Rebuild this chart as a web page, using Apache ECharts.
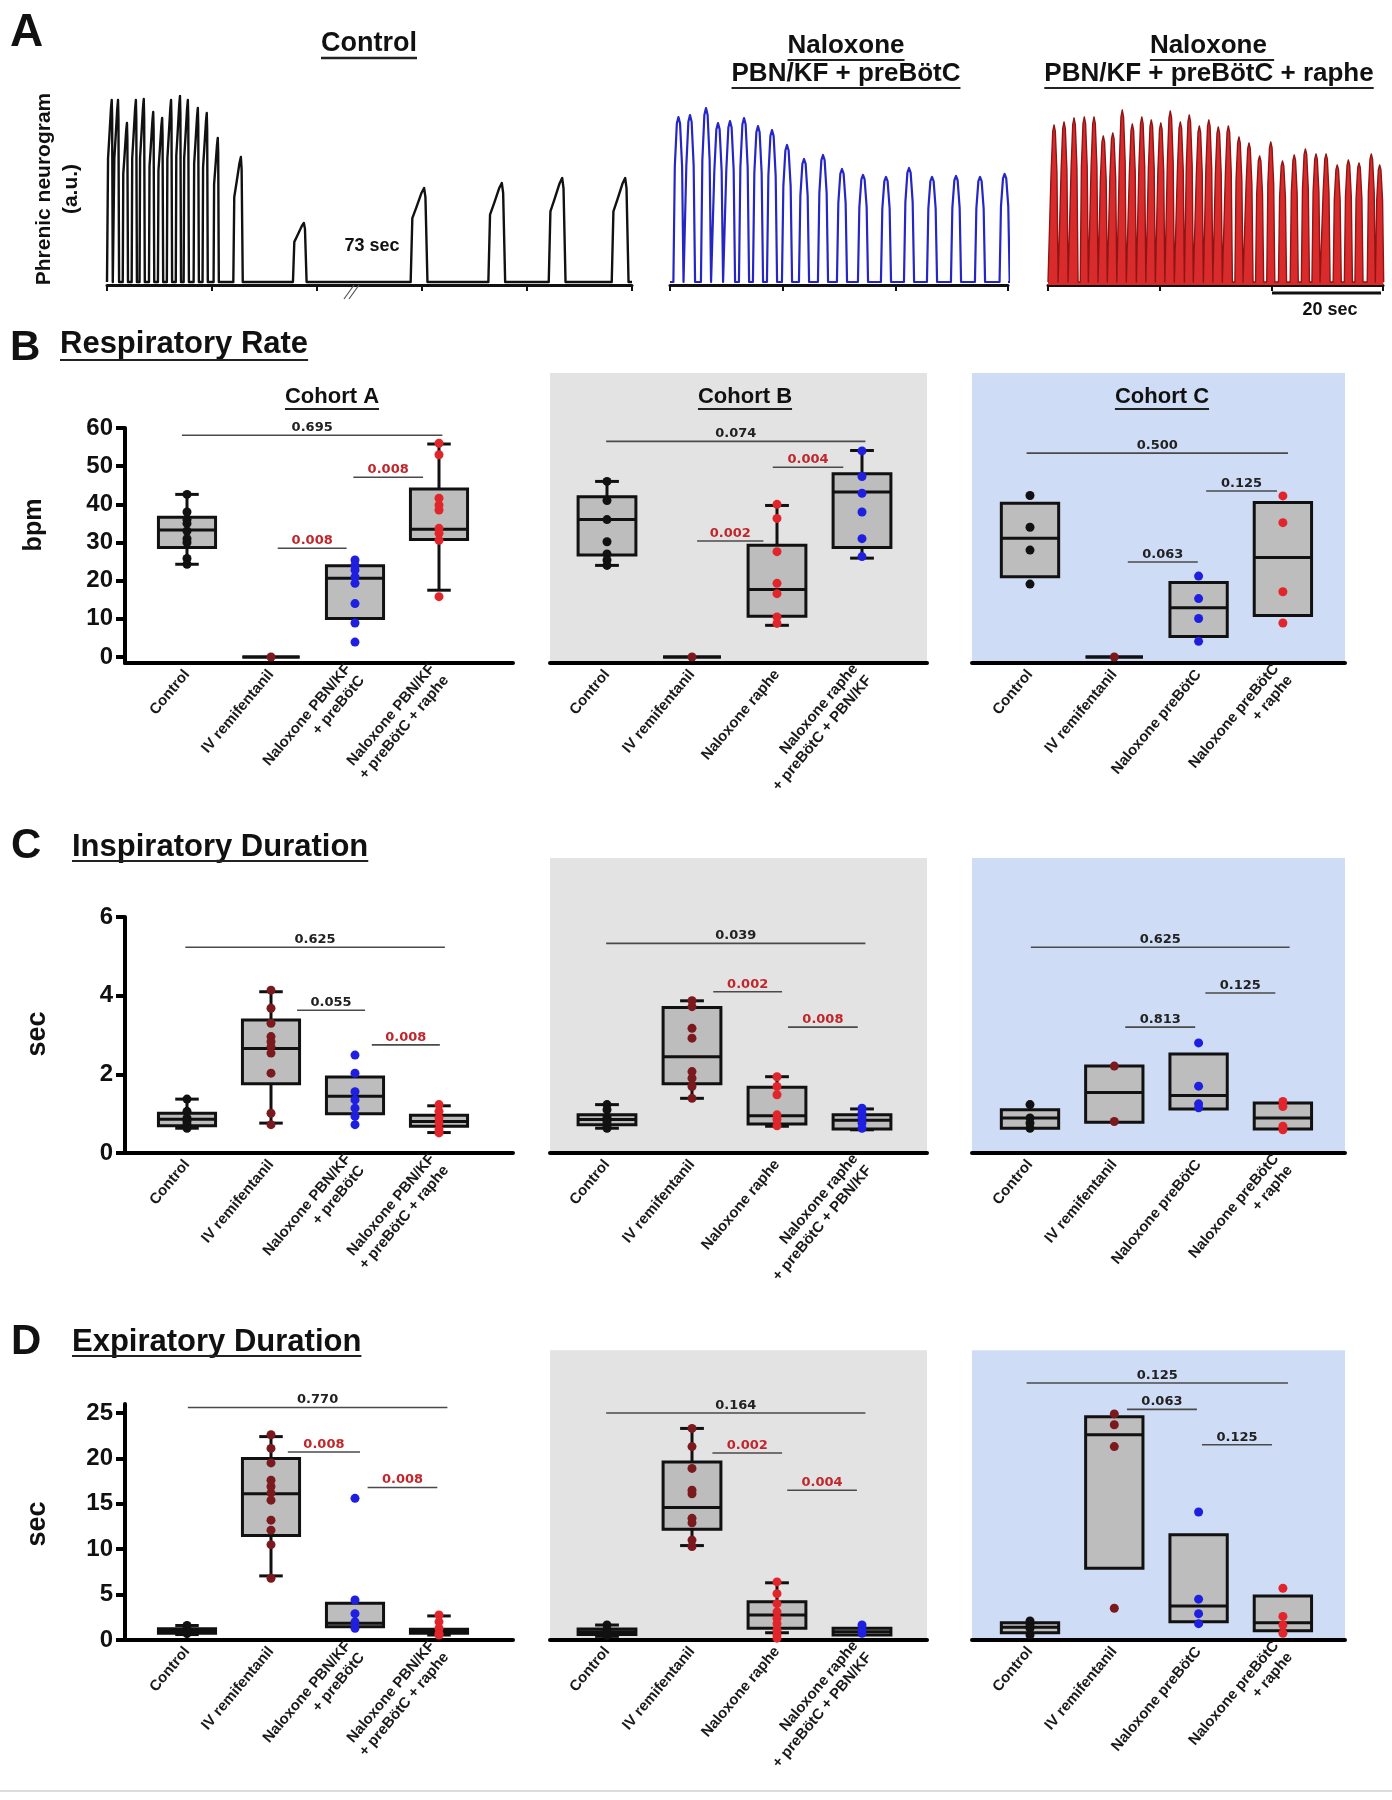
<!DOCTYPE html>
<html><head><meta charset="utf-8">
<script src="https://cdn.jsdelivr.net/npm/echarts@6/dist/echarts.min.js"></script>
<style>html,body{margin:0;padding:0;background:#fff}#c{width:1392px;height:1800px}</style>
</head><body><div id="c"></div><script>
// ================= DATA =================
// Panel A: phrenic neurogram bursts (peak time s, amplitude a.u., duration s)
const controlBurstTimes = [0.9,2.1,3.8,5.5,7.0,8.8,10.5,12.2,13.9,15.4,17.3,19.0,21.1,25.5,37.5,60.4,75.2,86.7,98.7];
const controlBurstAmps  = [182,182,159,182,183,170,164,182,186,182,174,169,144,125,59,94,99,104,104];
const controlBurstDurs  = [1.0,1.0,1.0,1.0,1.0,1.0,1.0,1.0,1.0,1.0,1.0,1.0,1.0,1.8,2.6,3.2,3.2,3.2,3.2];
const pbnBurstTimes = [1.5,3.55,6.39,8.52,10.65,13.14,15.62,18.11,20.77,23.79,27.16,30.53,34.26,38.34,42.43,46.51,50.77,55.03,59.4];
const pbnBurstAmps  = [165,167,174,159,161,164,156,152,137,123,127,113,107,105,114,105,106,105,108];
const pbnBurstDur = 1.8;
const rapheBurstTimes = [1.08,2.87,4.66,6.5,8.24,9.9,11.6,13.3,15.1,16.8,18.5,20.2,21.9,23.7,25.3,27.1,28.8,30.5,32.3,34.2,36.0,37.9,39.9,42.0,44.1,46.1,48.0,49.8,51.8,53.8,55.7,57.9,59.4];
const rapheBurstAmps  = [157,160,164,165,165,146,149,172,158,165,162,159,171,160,167,156,162,155,156,145,139,126,140,121,127,133,128,128,117,122,119,128,117];
const rapheBurstDur = 1.45;
const traceTickInterval = 20;

// Categories
const catsA = ['Control','IV remifentanil','Naloxone PBN/KF\n+ preBötC','Naloxone PBN/KF\n+ preBötC + raphe'];
const catsB = ['Control','IV remifentanil','Naloxone raphe','Naloxone raphe\n+ preBötC + PBN/KF'];
const catsC = ['Control','IV remifentanil','Naloxone preBötC','Naloxone preBötC\n+ raphe'];

// Tick labels
const rateTicks = [0,10,20,30,40,50,60];
const tiTicks = [0,2,4,6];
const teTicks = [0,5,10,15,20,25];

// Boxes: [whisker low, q1, median, q3, whisker high] (null = no whisker)
// Respiratory rate (bpm)
const rateBoxA = [[24.3,28.7,33.3,36.6,42.6],[0,0,0,0,0],[null,10.1,20.6,23.9,null],[17.5,30.8,33.5,44,55.8]];
const ratePtsA = [[42.6,38,36,35,33,31,30,25.8,24.3],[0],[25.4,24,22.8,21,19.3,14,8.9,3.9],[56,53,41.6,39.8,38.5,33.7,32.4,30.6,15.8]];
const rateSigA = [[-0.06,3.04,58.1,'0.695',0],[1.98,2.81,47.1,'0.008',1],[1.08,1.9,28.5,'0.008',1]];
const rateBoxB = [[24,26.7,36,42,46],[0,0,0,0,0],[8.3,10.7,17.7,29.3,39.7],[25.9,28.7,43.2,48,54.1]];
const ratePtsB = [[46,41,36,30.2,27,25.4,24],[0],[40,36.3,27.6,19.3,16.6,10.5,8.8],[54,47.3,42.9,38,31,26.3]];
const rateSigB = [[-0.01,3.04,56.5,'0.074',0],[1.95,2.78,49.7,'0.004',1],[1.06,1.84,30.4,'0.002',1]];
const rateBoxC = [[null,21,31.1,40.3,null],[0,0,0,0,0],[null,5.4,12.9,19.5,null],[null,10.9,26.1,40.5,null]];
const ratePtsC = [[42.3,34,28,19.1],[0],[21.2,15.3,10.1,4.1],[42.2,35.2,17.1,8.9]];
const rateSigC = [[-0.04,3.06,53.4,'0.500',0],[2.09,2.93,43.5,'0.125',0],[1.16,1.99,24.9,'0.063',0]];
// Inspiratory duration (sec)
const tiBoxA = [[0.63,0.69,0.86,1.01,1.37],[0.76,1.76,2.66,3.38,4.1],[null,1.0,1.44,1.93,null],[0.52,0.68,0.8,0.96,1.2]];
const tiPtsA = [[1.37,1.06,0.89,0.8,0.72,0.63],[4.14,3.68,3.3,2.96,2.83,2.7,2.54,2.03,1.01,0.72],[2.49,2.03,1.56,1.35,1.14,0.93,0.72],[1.23,1.06,0.89,0.76,0.59,0.51]];
const tiSigA = [[-0.02,3.07,5.23,'0.625',0],[1.31,2.12,3.63,'0.055',0],[2.2,3.01,2.75,'0.008',1]];
const tiBoxB = [[0.63,0.72,0.85,0.97,1.23],[1.39,1.76,2.45,3.7,3.87],[0.68,0.74,0.95,1.67,1.94],[0.59,0.61,0.83,0.97,1.12]];
const tiPtsB = [[1.23,1.1,0.9,0.8,0.7,0.63],[3.87,3.72,3.17,2.92,2.07,1.9,1.69,1.39],[1.94,1.69,1.48,0.97,0.85,0.69],[1.14,1.01,0.89,0.76,0.63]];
const tiSigB = [[-0.01,3.04,5.33,'0.039',0],[1.25,2.06,4.1,'0.002',1],[2.13,2.95,3.2,'0.008',1]];
const tiBoxC = [[null,0.63,0.89,1.1,null],[null,0.78,1.54,2.21,null],[null,1.12,1.46,2.52,null],[null,0.61,0.89,1.27,null]];
const tiPtsC = [[1.23,0.89,0.76,0.63],[2.21,0.8],[2.8,1.7,1.25,1.15],[1.31,1.18,0.68,0.59]];
const tiSigC = [[0.01,3.08,5.23,'0.625',0],[2.08,2.91,4.07,'0.125',0],[1.13,1.96,3.2,'0.813',0]];
// Expiratory duration (sec)
const teBoxA = [[0.6,0.75,1.0,1.25,1.6],[7.06,11.5,16.1,20.0,22.4],[null,1.47,1.84,4.04,null],[0.55,0.74,1.0,1.18,2.65]];
const tePtsA = [[1.6,1.2,1.05,0.95,0.85,0.7],[22.6,21.1,19.5,17.6,16.9,16.2,15.4,13.2,12.1,10.5,6.8],[15.6,4.4,2.9,2.0,1.3],[2.75,2.0,1.3,0.7,0.55]];
const teSigA = [[0.01,3.1,25.6,'0.770',0],[1.2,2.06,20.7,'0.008',1],[2.15,2.98,16.8,'0.008',1]];
const teBoxB = [[0.4,0.6,0.9,1.2,1.65],[10.4,12.2,14.6,19.6,23.3],[0.8,1.3,2.76,4.2,6.3],[null,0.55,0.9,1.3,null]];
const tePtsB = [[1.65,1.1,0.8,0.5],[23.3,21.3,18.9,16.5,16.1,13.4,12.9,11,10.3],[6.4,5.1,4.0,3.1,2.4,1.8,1.1,0.55,0.2],[1.65,1.1,0.74]];
const teSigB = [[-0.01,3.04,25.0,'0.164',0],[1.24,2.06,20.6,'0.002',1],[2.12,2.94,16.5,'0.004',1]];
const teBoxC = [[null,0.8,1.4,1.9,null],[null,7.9,22.6,24.6,null],[null,2.0,3.75,11.6,null],[null,1.03,1.9,4.85,null]];
const tePtsC = [[2.1,1.65,1.3,0.55],[24.9,23.7,21.3,3.5],[14.1,4.5,2.9,1.8],[5.7,2.6,1.65,0.74]];
const teSigC = [[-0.04,3.06,28.3,'0.125',0],[1.15,1.98,25.4,'0.063',0],[2.04,2.87,21.5,'0.125',0]];

// ================= STYLE / LAYOUT =================
const BLACK='#111', DRED='#7a1a1f', BLUE='#1f1fe0', RED='#e0262b';
const FONT='"Liberation Sans", Arial, sans-serif';
const PFONT='bold 13px "DejaVu Sans", sans-serif';
const cohorts = [
  {left:125, right:513, c0:187, step:84, cats:catsA, colors:[BLACK,DRED,BLUE,RED], bg:null},
  {left:550, right:927, c0:607, step:85, cats:catsB, colors:[BLACK,DRED,RED,BLUE], bg:'#e3e3e3'},
  {left:972, right:1345, c0:1030, step:84.3, cats:catsC, colors:[BLACK,DRED,BLUE,RED], bg:'#cfdcf6'}
];
const rows = [
  {y0:657, k:3.817, minV:-1.57, maxA:60, maxBg:74.4, ticks:rateTicks,
   boxes:[rateBoxA,rateBoxB,rateBoxC], pts:[ratePtsA,ratePtsB,ratePtsC], sig:[rateSigA,rateSigB,rateSigC]},
  {y0:1153, k:39.33, minV:0, maxA:6, maxBg:7.5, ticks:tiTicks,
   boxes:[tiBoxA,tiBoxB,tiBoxC], pts:[tiPtsA,tiPtsB,tiPtsC], sig:[tiSigA,tiSigB,tiSigC]},
  {y0:1640, k:9.08, minV:0, maxA:26, maxBg:31.9, ticks:teTicks,
   boxes:[teBoxA,teBoxB,teBoxC], pts:[tePtsA,tePtsB,tePtsC], sig:[teSigA,teSigB,teSigC]}
];
const BOX_W = 0.68, CAP_W = 0.28;

const grids=[], xAxes=[], yAxes=[], series=[];

// ---- traces ----
function buildTrace(times, amps, durs, aug, tEnd){
  const p=[[0,0]];
  for(let i=0;i<times.length;i++){
    const t=times[i], a=amps[i], d=Array.isArray(durs)?durs[i]:durs;
    if(aug) p.push([t-0.8*d,0],[t-0.7*d,0.68*a],[t-0.45*d,0.8*a],[t-0.15*d,0.95*a],[t,a],[t+0.08*d,0.9*a],[t+0.2*d,0]);
    else p.push([t-0.5*d,0],[t-0.36*d,0.7*a],[t-0.16*d,0.96*a],[t,a],[t+0.16*d,0.96*a],[t+0.36*d,0.7*a],[t+0.5*d,0]);
  }
  p.push([tEnd,0]);
  return p;
}
const traces = [
  {left:107, width:525, max:100, data:buildTrace(controlBurstTimes,controlBurstAmps,controlBurstDurs,true,100), color:'#111', area:null, w:2.4},
  {left:670, width:338, max:60, data:buildTrace(pbnBurstTimes,pbnBurstAmps,pbnBurstDur,false,60), color:'#2626c4', area:null, w:2.2},
  {left:1048, width:335, max:60, data:buildTrace(rapheBurstTimes,rapheBurstAmps,rapheBurstDur,false,60), color:'#8f1515', area:'#d92b2b', w:1.4}
];
traces.forEach((t,i)=>{
  grids.push({left:t.left, top:96, width:t.width, height:189});
  xAxes.push({type:'value', gridIndex:i, min:0, max:t.max, interval:traceTickInterval,
    axisLine:{show:true, onZero:false, lineStyle:{color:'#111', width:3}},
    axisTick:{show:true, length:6, lineStyle:{color:'#111', width:2}},
    axisLabel:{show:false}, splitLine:{show:false}});
  yAxes.push({type:'value', gridIndex:i, min:-3, max:186, show:false});
  series.push({type:'line', xAxisIndex:i, yAxisIndex:i, data:t.data, showSymbol:false, silent:true,
    lineStyle:{color:t.color, width:t.w, join:'round'}, areaStyle: t.area?{color:t.area, opacity:1, origin:'start'}:undefined, z:2});
});

// ---- box plots ----
function boxItem(params, api){
  const x=api.value(0), lo=api.value(1), q1=api.value(2), md=api.value(3), q3=api.value(4), hi=api.value(5);
  const w=api.size([BOX_W,0])[0], cw=api.size([CAP_W,0])[0];
  const pT=api.coord([x,q3]), pB=api.coord([x,q1]), pM=api.coord([x,md]), pL=api.coord([x,lo]), pH=api.coord([x,hi]);
  const cx=pT[0], st={stroke:'#111', lineWidth:3};
  const ch=[];
  if(hi>q3){
    ch.push({type:'line', shape:{x1:cx,y1:pT[1],x2:cx,y2:pH[1]}, style:st});
    ch.push({type:'line', shape:{x1:cx-cw/2,y1:pH[1],x2:cx+cw/2,y2:pH[1]}, style:st});
  }
  if(lo<q1){
    ch.push({type:'line', shape:{x1:cx,y1:pB[1],x2:cx,y2:pL[1]}, style:st});
    ch.push({type:'line', shape:{x1:cx-cw/2,y1:pL[1],x2:cx+cw/2,y2:pL[1]}, style:st});
  }
  ch.push({type:'rect', shape:{x:cx-w/2, y:pT[1], width:w, height:pB[1]-pT[1]}, style:{fill:'#bdbdbd', stroke:'#111', lineWidth:3}});
  ch.push({type:'line', shape:{x1:cx-w/2,y1:pM[1],x2:cx+w/2,y2:pM[1]}, style:st});
  return {type:'group', children:ch};
}
function sigRenderer(arr){
  return function(params, api){
    const s=arr[params.dataIndex];
    const a=api.coord([s[0],s[2]]), b=api.coord([s[1],s[2]]);
    return {type:'group', children:[
      {type:'line', shape:{x1:a[0],y1:a[1],x2:b[0],y2:b[1]}, style:{stroke:'#4a4a4a', lineWidth:1.6}},
      {type:'text', x:(a[0]+b[0])/2, y:a[1]-1, style:{text:s[3], fill:s[4]?'#c0262b':'#222', font:PFONT, align:'center', verticalAlign:'bottom'}}
    ]};
  };
}
let gi = traces.length;
rows.forEach((r)=>{
  cohorts.forEach((c,ci)=>{
    const maxV = ci===0 ? r.maxA : r.maxBg;
    const top = r.y0 - maxV*r.k, bottom = r.y0 - r.minV*r.k;
    grids.push({left:c.left, width:c.right-c.left, top:top, height:bottom-top,
      show: !!c.bg, backgroundColor: c.bg||'transparent', borderWidth:0});
    xAxes.push({type:'value', gridIndex:gi, min:(c.left-c.c0)/c.step, max:(c.right-c.c0)/c.step,
      axisLine:{show:true, onZero:false, lineStyle:{color:'#000', width:4}},
      axisTick:{show:false}, splitLine:{show:false},
      axisLabel:{customValues:[0,1,2,3], formatter:(v)=>c.cats[Math.round(v)], rotate:50, margin:9,
        color:'#1a1a1a', fontWeight:'bold', fontSize:15, lineHeight:18, fontFamily:FONT}});
    if(ci===0){
      yAxes.push({type:'value', gridIndex:gi, min:r.minV, max:maxV,
        axisLine:{show:true, onZero:false, lineStyle:{color:'#000', width:4}},
        axisTick:{show:true, customValues:r.ticks, length:9, lineStyle:{color:'#000', width:4}},
        axisLabel:{customValues:r.ticks, margin:12, color:'#111', fontWeight:'bold', fontSize:24, fontFamily:FONT},
        splitLine:{show:false}});
    } else {
      yAxes.push({type:'value', gridIndex:gi, min:r.minV, max:maxV, show:false});
    }
    const boxes=r.boxes[ci];
    series.push({type:'custom', xAxisIndex:gi, yAxisIndex:gi, renderItem:boxItem, silent:true, clip:false, z:2,
      data:boxes.map((b,i)=>[i, b[0]===null?b[1]:b[0], b[1], b[2], b[3], b[4]===null?b[3]:b[4]])});
    const pd=[];
    r.pts[ci].forEach((arr,i)=>arr.forEach(v=>pd.push([i,v])));
    series.push({type:'scatter', xAxisIndex:gi, yAxisIndex:gi, data:pd, symbolSize:9, silent:true, z:3,
      itemStyle:{color:(p)=>c.colors[p.data[0]], opacity:1}});
    const sg=r.sig[ci];
    series.push({type:'custom', xAxisIndex:gi, yAxisIndex:gi, renderItem:sigRenderer(sg), silent:true, clip:false, z:4,
      data:sg.map(s=>[s[0],s[2]])});
    gi++;
  });
});

// ---- text decorations ----
const mctx=document.createElement('canvas').getContext('2d');
function tw(text,font){mctx.font=font;return mctx.measureText(text).width;}
const G=[];
function txt(text,x,y,size,opt){
  opt=opt||{};
  const font=`bold ${size}px ${FONT}`;
  G.push({type:'text', x:x, y:y, rotation:opt.rot||0, z:10,
    style:{text:text, font:font, fill:opt.fill||'#111', align:opt.align||'left', verticalAlign:'middle'}});
  if(opt.ul!==undefined){
    const w=tw(text,font);
    const x0 = (opt.align==='center') ? x-w/2 : x;
    G.push({type:'line', z:10, shape:{x1:x0,y1:y+opt.ul,x2:x0+w,y2:y+opt.ul}, style:{stroke:'#222', lineWidth:opt.ulw||2}});
  }
}
txt('A',10,33,46);
txt('Control',369,44,27,{align:'center',ul:14,ulw:2.5});
txt('Naloxone',846,46,26,{align:'center',ul:14});
txt('PBN/KF + preBötC',846,74,26,{align:'center',ul:14});
txt('Naloxone ',1212,46,26,{align:'center',ul:14});
txt('PBN/KF + preBötC + raphe',1209,74,26,{align:'center',ul:14});
txt('Phrenic neurogram',44,189,21,{align:'center',rot:Math.PI/2});
txt('(a.u.)',71,189,21,{align:'center',rot:Math.PI/2});
txt('73 sec',372,246,18,{align:'center'});
G.push({type:'line', z:10, shape:{x1:344,y1:299,x2:354,y2:285}, style:{stroke:'#555', lineWidth:1.2}});
G.push({type:'line', z:10, shape:{x1:349,y1:299,x2:359,y2:285}, style:{stroke:'#555', lineWidth:1.2}});
G.push({type:'line', z:10, shape:{x1:1272,y1:293,x2:1381,y2:293}, style:{stroke:'#111', lineWidth:3}});
txt('20 sec',1330,310,18,{align:'center'});

txt('B',10,348,42);
txt('Respiratory Rate',60,344,31,{ul:16});
txt('Cohort A',332,397,22,{align:'center',ul:12});
txt('Cohort B',745,397,22,{align:'center',ul:12});
txt('Cohort C',1162,397,22,{align:'center',ul:12});
txt('bpm',34,525,25,{align:'center',rot:Math.PI/2});

txt('C',11,846,42);
txt('Inspiratory Duration',72,847,31,{ul:14});
txt('sec',38,1034,27,{align:'center',rot:Math.PI/2});

txt('D',11,1342,42);
txt('Expiratory Duration',72,1342,31,{ul:14});
txt('sec',38,1524,27,{align:'center',rot:Math.PI/2});
G.push({type:'line', z:10, shape:{x1:0,y1:1791,x2:1392,y2:1791}, style:{stroke:'#dcdcdc', lineWidth:2}});

const chart=echarts.init(document.getElementById('c'),null,{renderer:'canvas'});
chart.setOption({backgroundColor:'#fff', animation:false, grid:grids, xAxis:xAxes, yAxis:yAxes, series:series, graphic:G});
</script></body></html>
